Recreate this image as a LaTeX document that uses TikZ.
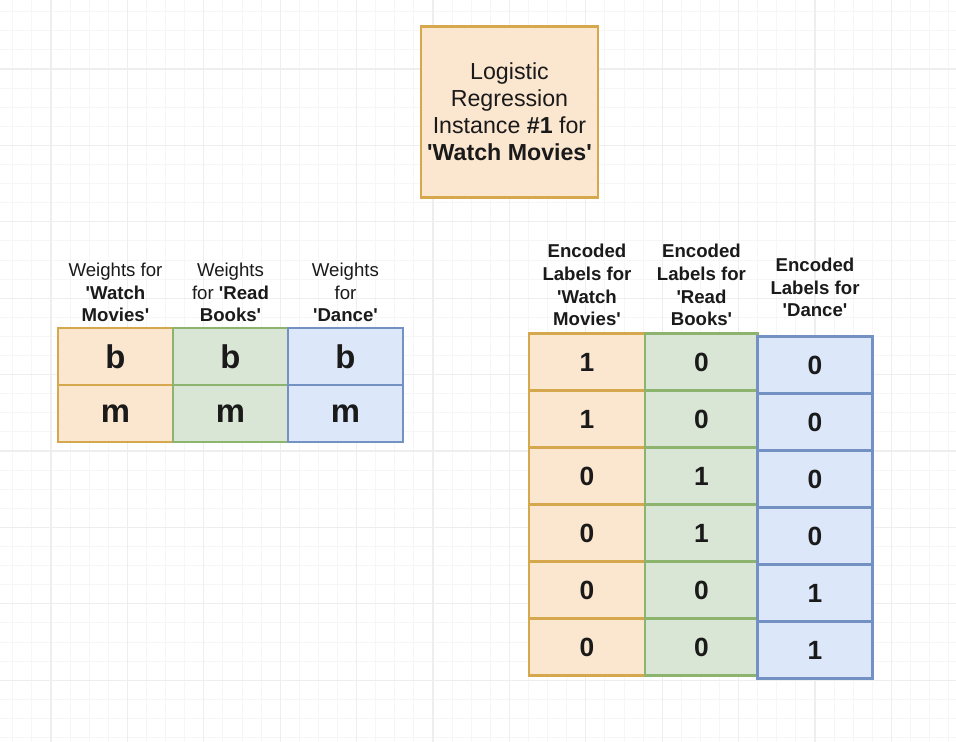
\documentclass[tikz,border=0pt]{standalone}
\usepackage{fontspec}
\setmainfont{Liberation Sans}
\usetikzlibrary{positioning}
\definecolor{orfill}{HTML}{FBE6D0}
\definecolor{orline}{HTML}{D6A84E}
\definecolor{grfill}{HTML}{DAE6D5}
\definecolor{grline}{HTML}{8CB46E}
\definecolor{blfill}{HTML}{DCE7FA}
\definecolor{blline}{HTML}{7391C3}
\definecolor{gridlight}{HTML}{F6F6F6}
\definecolor{griddark}{HTML}{EEEEEE}
\definecolor{ink}{HTML}{1A1A1A}
\newcommand{\sq}{\textquotesingle}
\tikzset{
  cell/.style={shape=rectangle,draw,line width=1.6pt,inner sep=0pt,
    outer sep=0pt,minimum height=1.14cm,text=ink},
  bigcell/.style={cell,minimum width=2.3cm,
    font=\fontsize{18.7}{22}\selectfont\bfseries},
  numcell/.style={cell,font=\fontsize{15}{18}\selectfont\bfseries},
  watch/.style={fill=orfill,draw=orline},
  read/.style={fill=grfill,draw=grline},
  dance/.style={fill=blfill,draw=blline},
  head/.style={align=center,inner sep=0pt,outer sep=0pt,text=ink,
    font=\fontsize{10.6}{13}\selectfont},
  gridminor/.style={draw=gridlight,line width=0.5pt},
  gridmajor/.style={draw=griddark,line width=0.6pt}
}

\begin{document}
\begin{tikzpicture}[x=0.02cm,y=-0.02cm]
    \fill[white] (0,0) rectangle (956,742);
    \useasboundingbox (0,0) rectangle (956,742);
    % background grid
    \foreach \gx in {0,...,49} \draw[gridminor] ({12.8+19.1*\gx},0) -- ++(0,742);
    \foreach \gy in {0,...,38} \draw[gridminor] (0,{11.7+19.1*\gy}) -- ++(956,0);
    \foreach \gx in {0,...,11} \draw[gridmajor] ({51+76.4*\gx},0) -- ++(0,742);
    \foreach \gy in {0,...,8} \draw[gridmajor] (0,{69+76.4*\gy}) -- ++(956,0);

    \node (lr) [cell,watch,minimum width=3.54cm,minimum height=3.42cm,
      align=center,font=\fontsize{13.2}{15.3}\selectfont] at (509.5,112)
      {Logistic\\Regression\\Instance \textbf{\#1} for\\\textbf{\sq Watch Movies\sq}};

    % weights
    \node (wmb) [bigcell,watch] at (115.5,356.5) {b};
    \node (wmm) [bigcell,watch,below=0pt of wmb] {m};
    \node (rbb) [bigcell,read,right=0pt of wmb] {b};
    \node (rbm) [bigcell,read,below=0pt of rbb] {m};
    \node (dab) [bigcell,dance,right=0pt of rbb] {b};
    \node (dam) [bigcell,dance,below=0pt of dab] {m};
    \node (hwm) [head,above=3.4pt of wmb] {Weights for\\\textbf{\sq Watch}\\\textbf{Movies\sq}};
    \node (hrb) [head,above=3.4pt of rbb] {Weights\\for \textbf{\sq Read}\\\textbf{Books\sq}};
    \node (hda) [head,above=3.4pt of dab] {Weights\\for\\\textbf{\sq Dance\sq}};

    % encoded labels
    \node (lwm1) [numcell,watch,minimum width=2.32cm] at (587,362) {1};
    \node (lwm2) [numcell,watch,minimum width=2.32cm,below=0pt of lwm1] {1};
    \node (lwm3) [numcell,watch,minimum width=2.32cm,below=0pt of lwm2] {0};
    \node (lwm4) [numcell,watch,minimum width=2.32cm,below=0pt of lwm3] {0};
    \node (lwm5) [numcell,watch,minimum width=2.32cm,below=0pt of lwm4] {0};
    \node (lwm6) [numcell,watch,minimum width=2.32cm,below=0pt of lwm5] {0};
    \node (lrb1) [numcell,read,minimum width=2.26cm,right=0pt of lwm1] {0};
    \node (lrb2) [numcell,read,minimum width=2.26cm,below=0pt of lrb1] {0};
    \node (lrb3) [numcell,read,minimum width=2.26cm,below=0pt of lrb2] {1};
    \node (lrb4) [numcell,read,minimum width=2.26cm,below=0pt of lrb3] {1};
    \node (lrb5) [numcell,read,minimum width=2.26cm,below=0pt of lrb4] {0};
    \node (lrb6) [numcell,read,minimum width=2.26cm,below=0pt of lrb5] {0};
    \node (lda1) [numcell,dance,minimum width=2.3cm] at (815,365) {0};
    \node (lda2) [numcell,dance,minimum width=2.3cm,below=0pt of lda1] {0};
    \node (lda3) [numcell,dance,minimum width=2.3cm,below=0pt of lda2] {0};
    \node (lda4) [numcell,dance,minimum width=2.3cm,below=0pt of lda3] {0};
    \node (lda5) [numcell,dance,minimum width=2.3cm,below=0pt of lda4] {1};
    \node (lda6) [numcell,dance,minimum width=2.3cm,below=0pt of lda5] {1};
    \node (hlwm) [head,font=\fontsize{10.6}{13}\selectfont\bfseries,above=4.2pt of lwm1]
      {Encoded\\Labels for\\\sq Watch\\Movies\sq};
    \node (hlrb) [head,font=\fontsize{10.6}{13}\selectfont\bfseries,above=4.2pt of lrb1]
      {Encoded\\Labels for\\\sq Read\\Books\sq};
    \node (hlda) [head,font=\fontsize{10.6}{13}\selectfont\bfseries,above=11pt of lda1]
      {Encoded\\Labels for\\\sq Dance\sq};
\end{tikzpicture}
\end{document}
